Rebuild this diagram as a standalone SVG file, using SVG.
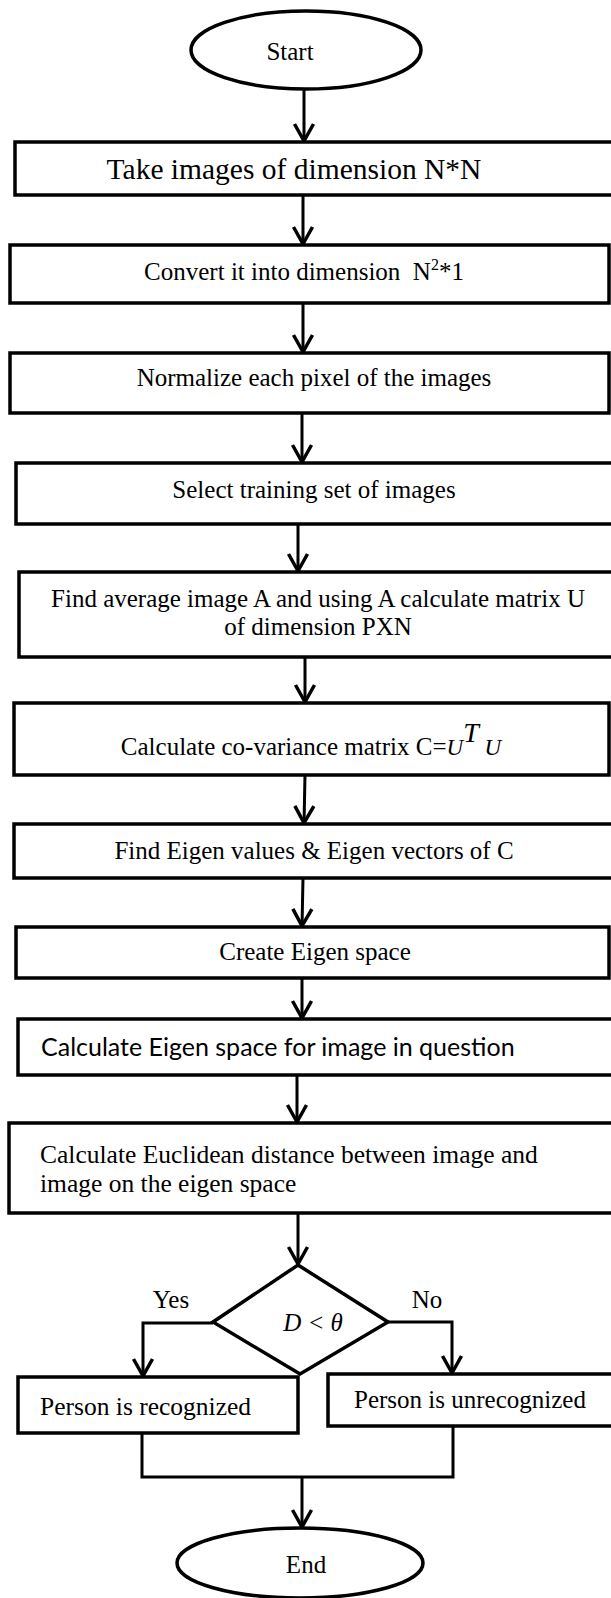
<svg xmlns="http://www.w3.org/2000/svg" width="611" height="1598" viewBox="0 0 611 1598">
<style>
.box{fill:#fff;stroke:#000;stroke-width:3.5}
.t{font-family:"Liberation Serif","Times New Roman",serif;font-size:25px;fill:#000}
.c{text-anchor:middle}
.big{font-size:29.5px}
.m{font-size:25.5px}
.s{font-family:Lato,"Liberation Sans",sans-serif;font-size:25px;fill:#000}
.ln{fill:none;stroke:#000;stroke-width:3}
</style>
<defs>
<marker id="ah" viewBox="-24 -13 28 26" refX="1" refY="0" markerWidth="28" markerHeight="26" markerUnits="userSpaceOnUse" orient="auto" overflow="visible">
<path d="M-17,-9.5 L0,0 L-17,9.5" fill="none" stroke="#000" stroke-width="3.5"/>
</marker>
</defs>
<rect width="611" height="1598" fill="#fff"/>
<g id="connectors">
<line class="ln" x1="304" y1="89" x2="304" y2="142" marker-end="url(#ah)"/>
<line class="ln" x1="303" y1="195" x2="303" y2="245" marker-end="url(#ah)"/>
<line class="ln" x1="303" y1="303" x2="303" y2="353" marker-end="url(#ah)"/>
<line class="ln" x1="302" y1="413" x2="302" y2="463" marker-end="url(#ah)"/>
<line class="ln" x1="298" y1="524" x2="298" y2="572" marker-end="url(#ah)"/>
<line class="ln" x1="305" y1="657" x2="305" y2="703" marker-end="url(#ah)"/>
<line class="ln" x1="305" y1="775" x2="304" y2="824" marker-end="url(#ah)"/>
<line class="ln" x1="303" y1="878" x2="302" y2="927" marker-end="url(#ah)"/>
<line class="ln" x1="302" y1="978" x2="302" y2="1019" marker-end="url(#ah)"/>
<line class="ln" x1="297" y1="1075" x2="297" y2="1123" marker-end="url(#ah)"/>
<line class="ln" x1="298" y1="1213" x2="298" y2="1265" marker-end="url(#ah)"/>
<polyline class="ln" points="213,1323 143,1323 143,1377" marker-end="url(#ah)"/>
<polyline class="ln" points="388,1322 452,1322 452,1374" marker-end="url(#ah)"/>
<polyline class="ln" points="142,1433 142,1477 453,1477 453,1426"/>
<line class="ln" x1="302" y1="1477" x2="302" y2="1528" marker-end="url(#ah)"/>
</g>
<g id="start">
<ellipse class="box" cx="306" cy="50" rx="115" ry="39"/>
<text class="t c" x="290" y="60">Start</text>
</g>
<g id="n1">
<rect class="box" x="15" y="142" width="610" height="53"/>
<text class="t c big" x="294" y="179">Take images of dimension N*N</text>
</g>
<g id="n2">
<rect class="box" x="10" y="245" width="599" height="58"/>
<text class="t c" x="304" y="280" xml:space="preserve">Convert it into dimension  N<tspan font-size="16" dy="-10">2</tspan><tspan dy="10">*1</tspan></text>
</g>
<g id="n3">
<rect class="box" x="10" y="353" width="599" height="60"/>
<text class="t c" x="314" y="386">Normalize each pixel of the images</text>
</g>
<g id="n4">
<rect class="box" x="16" y="463" width="609" height="61"/>
<text class="t c" x="314" y="498">Select training set of images</text>
</g>
<g id="n5">
<rect class="box" x="19" y="572" width="606" height="85"/>
<text class="t c" x="318" y="607">Find average image A and using A calculate matrix U</text>
<text class="t c" x="318" y="635">of dimension PXN</text>
</g>
<g id="n6">
<rect class="box" x="14" y="703" width="595" height="72"/>
<text class="t c" x="311" y="755">Calculate co-variance matrix C=<tspan font-style="italic" font-size="23">U</tspan><tspan font-style="italic" font-size="28" dy="-13">T</tspan><tspan font-style="italic" font-size="23" dy="13"> U</tspan></text>
</g>
<g id="n7">
<rect class="box" x="14" y="824" width="611" height="54"/>
<text class="t c" x="314" y="859">Find Eigen values &amp; Eigen vectors of C</text>
</g>
<g id="n8">
<rect class="box" x="16" y="927" width="593" height="51"/>
<text class="t c" x="315" y="960">Create Eigen space</text>
</g>
<g id="n9">
<rect class="box" x="18" y="1019" width="607" height="56"/>
<text class="s" x="41" y="1056">Calculate Eigen space for image in question</text>
</g>
<g id="n10">
<rect class="box" x="9" y="1123" width="616" height="90"/>
<text class="t m" x="40" y="1163">Calculate Euclidean distance between image and</text>
<text class="t m" x="40" y="1192">image on the eigen space</text>
</g>
<g id="decision">
<polygon class="box" points="298,1265 388,1322 300,1374 213,1322"/>
<text class="t c" x="313" y="1331" font-style="italic">D &lt; θ</text>
<text class="t c" x="171" y="1308">Yes</text>
<text class="t c" x="427" y="1308">No</text>
</g>
<g id="recognized">
<rect class="box" x="18" y="1377" width="280" height="56"/>
<text class="t m" x="40" y="1415">Person is recognized</text>
</g>
<g id="unrecognized">
<rect class="box" x="328" y="1374" width="297" height="52"/>
<text class="t" x="354" y="1408">Person is unrecognized</text>
</g>
<g id="end">
<ellipse class="box" cx="300" cy="1563" rx="123" ry="35"/>
<text class="t c" x="306" y="1573">End</text>
</g>
</svg>
